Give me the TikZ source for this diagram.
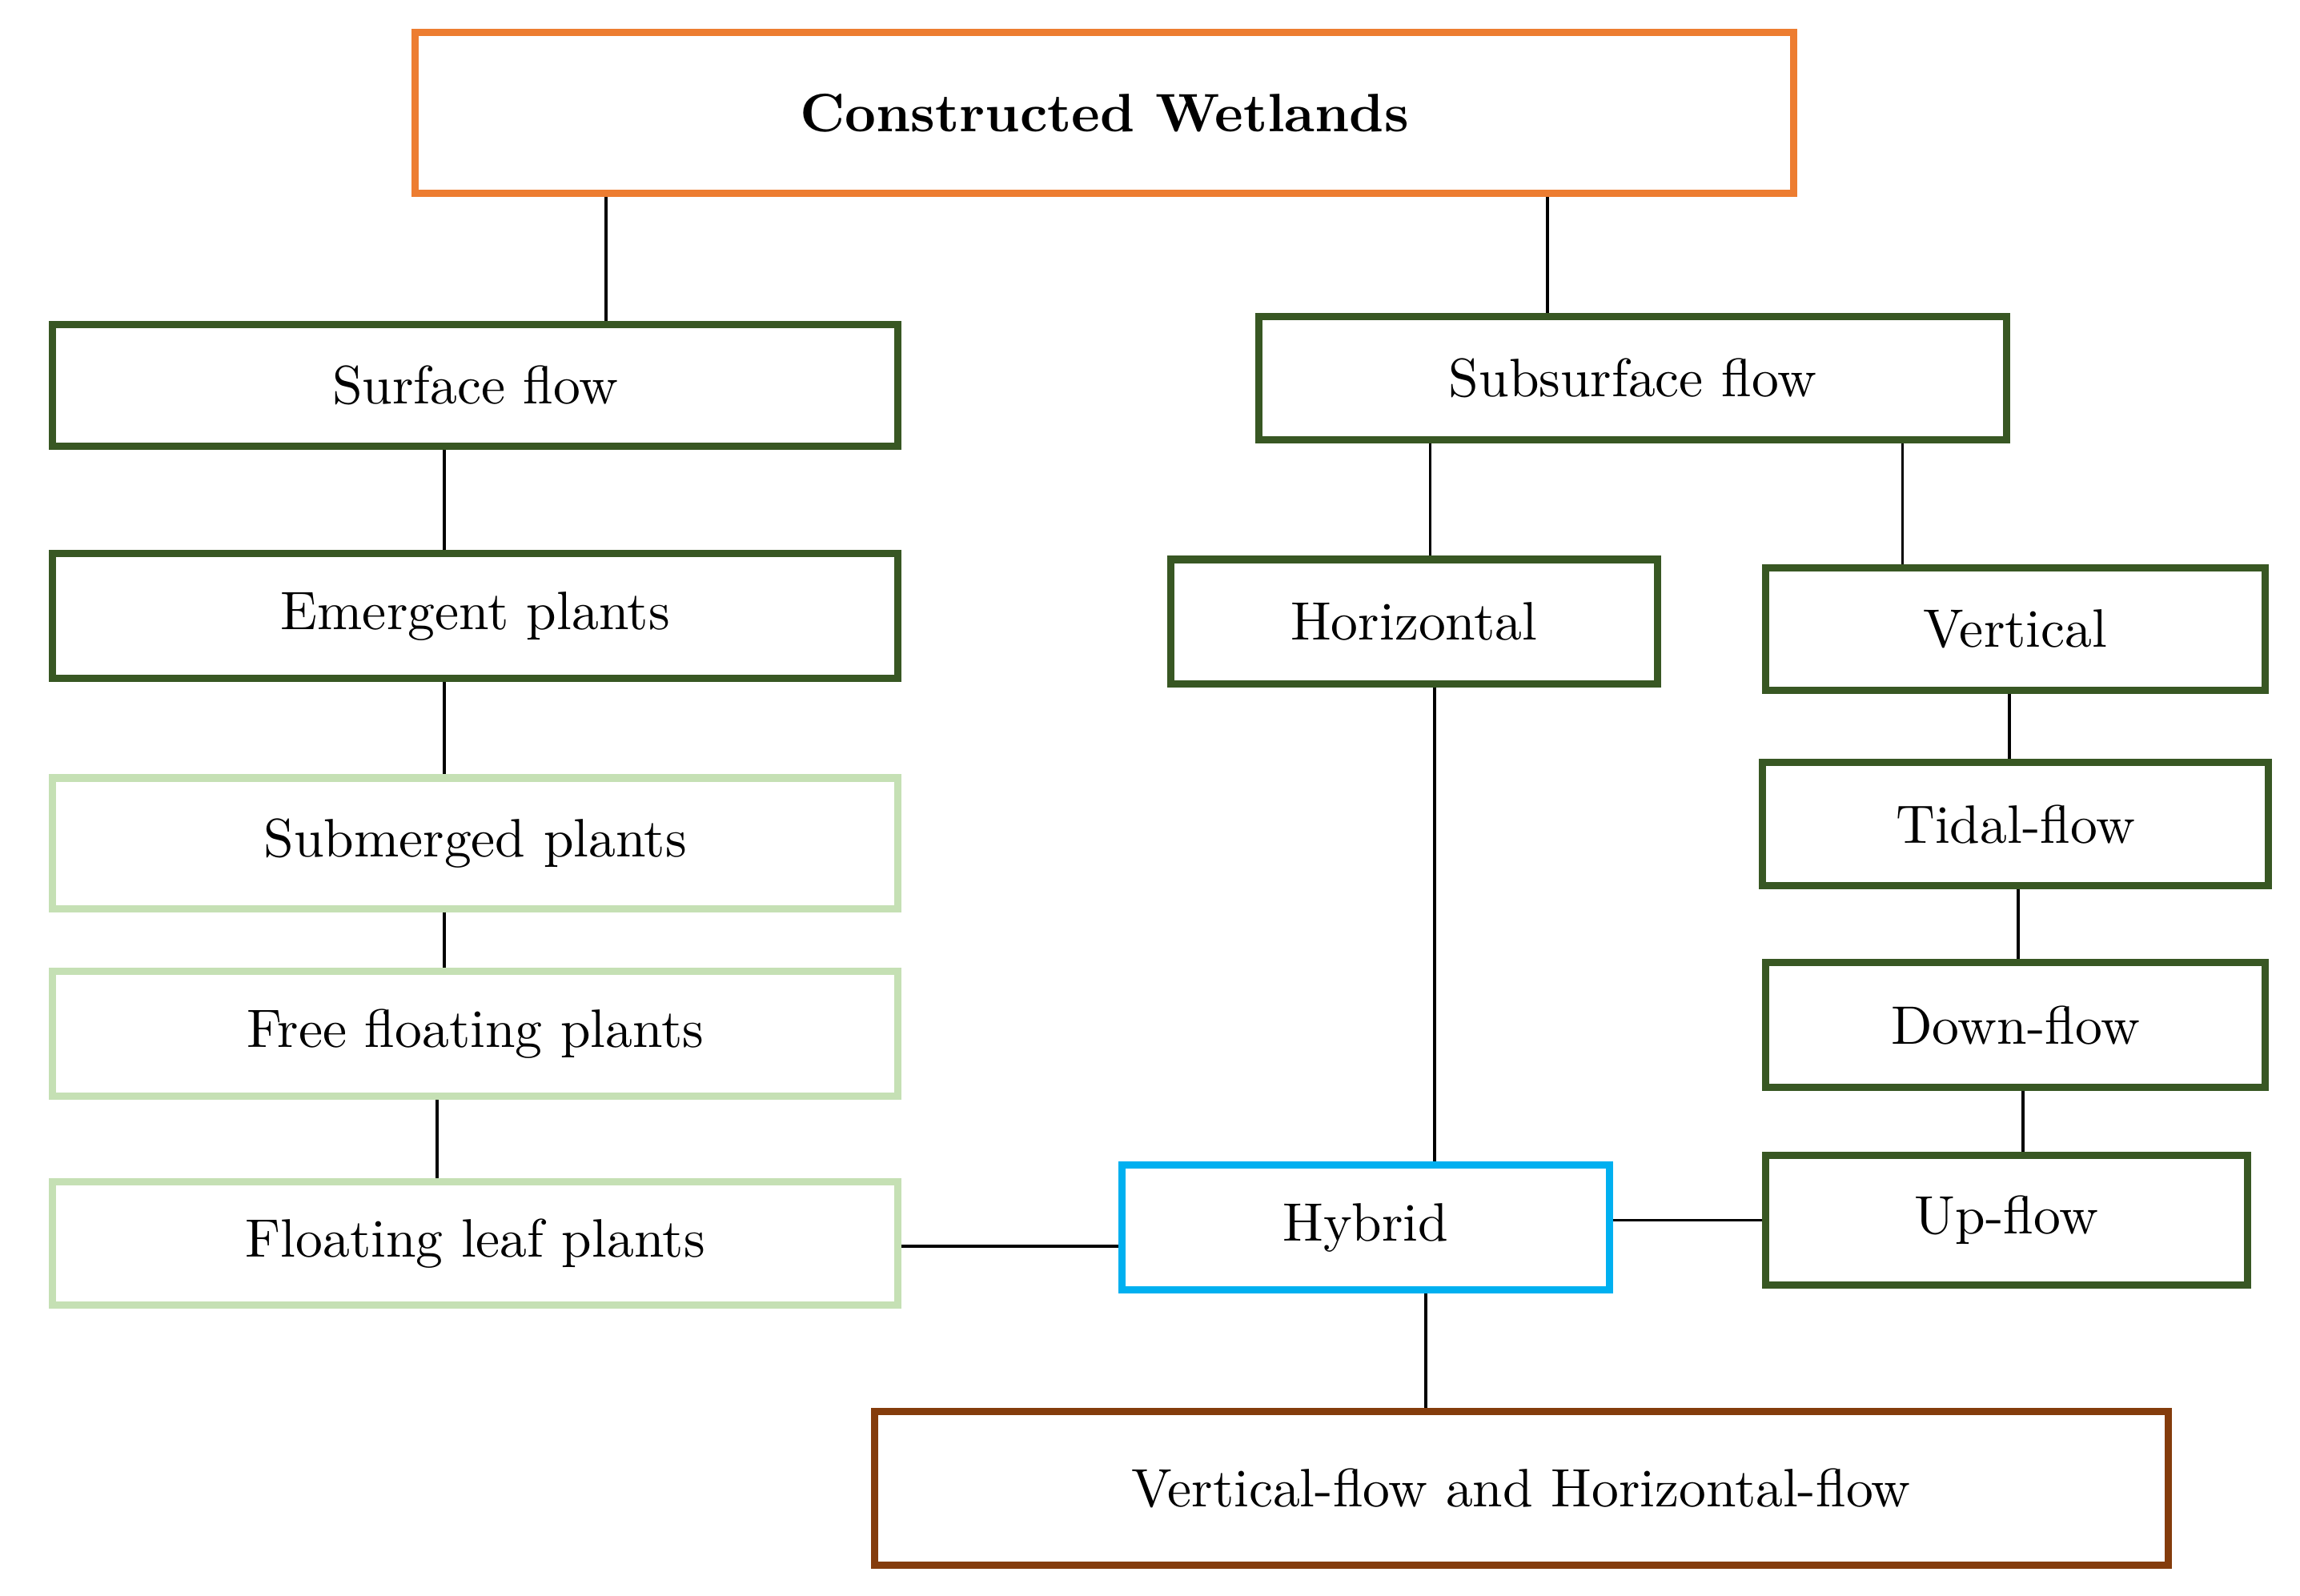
\documentclass[tikz,border=0pt]{standalone}
\usetikzlibrary{positioning}
\definecolor{dgreen}{RGB}{56,87,35}
\definecolor{lgreen}{RGB}{197,224,180}
\definecolor{orng}{RGB}{237,125,49}
\definecolor{skyb}{RGB}{0,176,240}
\definecolor{brwn}{RGB}{132,60,12}
\tikzset{
  box/.style={draw, line width=1.4pt, inner sep=0pt, font=\fontsize{10.5}{12}\selectfont},
  dbox/.style={box, draw=dgreen},
  lbox/.style={box, draw=lgreen},
  link/.style={line width=0.6pt}
}
\begin{document}
\begin{tikzpicture}[x=0.1mm,y=-0.1mm]
\useasboundingbox (0,0) rectangle (1568,1088);
% top
\node[box, draw=orng, minimum width=94mm, minimum height=11mm, font=\fontsize{10.5}{12}\selectfont\bfseries] (cw) at (753,77) {Constructed Wetlands};
% surface flow branch
\node[dbox, minimum width=57.6mm, minimum height=8.3mm] (surf) at (324,263) {Surface flow};
\node[dbox, minimum width=57.6mm, minimum height=8.5mm] (emer) at (324,420) {Emergent plants};
\node[lbox, minimum width=57.6mm, minimum height=8.9mm] (subm) at (324,575) {Submerged plants};
\node[lbox, minimum width=57.6mm, minimum height=8.5mm] (free) at (324,705) {Free floating plants};
\node[lbox, minimum width=57.6mm, minimum height=8.4mm] (leaf) at (324,848) {Floating leaf plants};
% subsurface flow branch
\node[dbox, minimum width=51mm, minimum height=8.4mm] (subs) at (1113,258) {Subsurface flow};
\node[dbox, minimum width=33.2mm, minimum height=8.5mm] (hori) at (964,424) {Horizontal};
\node[dbox, minimum width=34.1mm, minimum height=8.3mm] (vert) at (1374,429) {Vertical};
\node[dbox, minimum width=34.5mm, minimum height=8.4mm] (tide) at (1374,562) {Tidal-flow};
\node[dbox, minimum width=34.1mm, minimum height=8.5mm] (down) at (1374,699) {Down-flow};
\node[dbox, minimum width=32.9mm, minimum height=8.8mm] (upfl) at (1368,832) {Up-flow};
% hybrid
\node[box, draw=skyb, minimum width=33.2mm, minimum height=8.5mm] (hyb) at (931,837) {Hybrid};
\node[box, draw=brwn, minimum width=88.2mm, minimum height=10.5mm] (vfhf) at (1037,1015) {Vertical-flow and Horizontal-flow};
% connectors
\draw[link] (cw.south -| 413,0) -- (surf.north -| 413,0);
\draw[link] (cw.south -| 1055,0) -- (subs.north -| 1055,0);
\draw[link] (surf.south -| 303,0) -- (emer.north -| 303,0);
\draw[link] (emer.south -| 303,0) -- (subm.north -| 303,0);
\draw[link] (subm.south -| 303,0) -- (free.north -| 303,0);
\draw[link] (free.south -| 298,0) -- (leaf.north -| 298,0);
\draw[link] (subs.south -| 975,0) -- (hori.north -| 975,0);
\draw[link] (subs.south -| 1297,0) -- (vert.north -| 1297,0);
\draw[link] (hori.south -| 978,0) -- (hyb.north -| 978,0);
\draw[link] (vert.south -| 1370,0) -- (tide.north -| 1370,0);
\draw[link] (tide.south -| 1376,0) -- (down.north -| 1376,0);
\draw[link] (down.south -| 1379,0) -- (upfl.north -| 1379,0);
\draw[link] (leaf.east |- 0,850) -- (hyb.west |- 0,850);
\draw[link] (hyb.east |- 0,832) -- (upfl.west |- 0,832);
\draw[link] (hyb.south -| 972,0) -- (vfhf.north -| 972,0);
\end{tikzpicture}
\end{document}
